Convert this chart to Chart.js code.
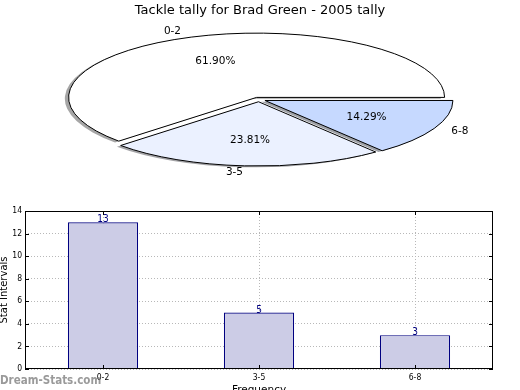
<!DOCTYPE html>
<html><head><meta charset="utf-8">
<script src="https://cdn.jsdelivr.net/npm/chart.js@4"></script>
<style>
html,body{margin:0;padding:0;background:#fff;overflow:hidden;width:520px;height:390px;}
#pieWrap{position:absolute;left:0;top:0;width:520px;height:200px;}
#barWrap{position:absolute;left:0;top:200px;width:520px;height:194px;}
canvas{display:block;}
</style></head><body>
<div id="pieWrap"><canvas id="pie" width="520" height="200"></canvas></div>
<div id="barWrap"><canvas id="bar" width="520" height="194"></canvas></div>
<script>
// ---- data ----
const TITLE = 'Tackle tally for Brad Green - 2005 tally';
const categories = ['0-2', '3-5', '6-8'];
const tallies = [13, 5, 3];
const yTicks = [0, 2, 4, 6, 8, 10, 12, 14];
const pieColors = ['#ffffff', '#ebf1ff', '#c6d9ff'];
const X_TITLE = 'Frequency';
const Y_TITLE = 'Stat Intervals';
const WATERMARK = 'Dream-Stats.com';

// ---- style ----
const RX = 188, RY = 64.3;
const SY = RY / RX;
const EXPLODE = 0.035;
const SHADOW = 0.02;
const FONT = '"DejaVu Sans", "Liberation Sans", sans-serif';
const CFONT = '"DejaVu Sans Condensed", "DejaVu Sans", sans-serif';

Chart.defaults.font.family = FONT;
Chart.defaults.color = '#000';

const total = tallies.reduce((a, b) => a + b, 0);
const order = categories.map((c, i) => i).reverse(); // clockwise from east

function shade(col) {
  const c = col.replace('#', '');
  const r = Math.round(parseInt(c.substr(0, 2), 16) * 0.3);
  const g = Math.round(parseInt(c.substr(2, 2), 16) * 0.3);
  const b = Math.round(parseInt(c.substr(4, 2), 16) * 0.3);
  return `rgba(${r},${g},${b},0.5)`;
}

const ellipsePie = {
  id: 'ellipsePie',
  beforeDatasetDraw(chart, args) {
    const ctx = chart.ctx;
    const arcs = args.meta.data;
    const cx = arcs[0].x, cy = arcs[0].y, R = arcs[0].outerRadius;
    const toEllipse = () => { ctx.translate(cx, cy); ctx.scale(1, SY); ctx.translate(-cx, -cy); };
    const shift = a => { const m = (a.startAngle + a.endAngle) / 2; return [Math.cos(m) * EXPLODE * R, Math.sin(m) * EXPLODE * R]; };
    arcs.forEach(a => {
      const [dx, dy] = shift(a);
      ctx.save(); toEllipse(); ctx.translate(dx - SHADOW * R, dy + SHADOW * R);
      const o = a.options;
      a.options = Object.assign({}, o, { backgroundColor: shade(o.backgroundColor), borderWidth: 0 });
      a.draw(ctx);
      a.options = o;
      ctx.restore();
    });
    for (let k = arcs.length - 1; k >= 0; k--) {
      const a = arcs[k];
      const [dx, dy] = shift(a);
      ctx.save(); toEllipse(); ctx.translate(dx, dy);
      a.draw(ctx);
      ctx.beginPath();
      ctx.moveTo(cx, cy);
      ctx.arc(cx, cy, R, a.startAngle, a.endAngle);
      ctx.closePath();
      ctx.restore();
      ctx.save();
      ctx.lineWidth = 1; ctx.strokeStyle = '#000'; ctx.lineJoin = 'round';
      ctx.stroke();
      ctx.restore();
    }
    return false;
  },
  afterDraw(chart) {
    const ctx = chart.ctx;
    const arcs = chart.getDatasetMeta(0).data;
    const ds = chart.data.datasets[0].data;
    const cx = arcs[0].x, cy = arcs[0].y, R = arcs[0].outerRadius;
    ctx.save();
    ctx.fillStyle = '#000';
    ctx.font = `13px ${FONT}`;
    ctx.textAlign = 'center'; ctx.textBaseline = 'alphabetic';
    ctx.fillText(TITLE, chart.width / 2, 14);
    ctx.font = `10.5px ${FONT}`;
    ctx.textBaseline = 'middle';
    arcs.forEach((a, i) => {
      const m = (a.startAngle + a.endAngle) / 2;
      const ox = cx + Math.cos(m) * EXPLODE * R, oy = cy + Math.sin(m) * EXPLODE * R;
      const pos = k => [ox + Math.cos(m) * k * R, cy + (oy + Math.sin(m) * k * R - cy) * SY];
      const [lx, ly] = pos(1.1);
      ctx.textAlign = Math.cos(m) > 0 ? 'left' : 'right';
      ctx.fillText(chart.data.labels[i], lx, ly);
      const [px, py] = pos(0.6);
      ctx.textAlign = 'center';
      ctx.fillText((ds[i] / total * 100).toFixed(2) + '%', px, py);
    });
    ctx.restore();
  }
};

new Chart(document.getElementById('pie'), {
  type: 'pie',
  data: {
    labels: order.map(i => categories[i]),
    datasets: [{
      data: order.map(i => tallies[i]),
      backgroundColor: order.map(i => pieColors[i]),
      borderWidth: 0,
      radius: RX,
      clip: false
    }]
  },
  options: {
    responsive: false, animation: false, events: [],
    rotation: 90,
    radius: RX,
    layout: { padding: { left: 0, right: 2, top: 0, bottom: 1 } },
    plugins: { legend: { display: false }, tooltip: { enabled: false }, title: { display: false } }
  },
  plugins: [ellipsePie]
});

const barExtras = {
  id: 'barExtras',
  afterDraw(chart) {
    const ctx = chart.ctx;
    const { left, right, top, bottom } = chart.chartArea;
    const xs = chart.scales.x, ys = chart.scales.y;
    ctx.save();
    ctx.strokeStyle = '#000'; ctx.lineWidth = 1;
    ctx.strokeRect(left + 0.5, top + 0.5, right - left - 1, bottom - top - 1);
    ctx.beginPath();
    yTicks.forEach(v => {
      const y = Math.round(ys.getPixelForValue(v)) + 0.5;
      ctx.moveTo(left, y); ctx.lineTo(left + 4, y);
      ctx.moveTo(right, y); ctx.lineTo(right - 4, y);
    });
    categories.forEach((c, i) => {
      const x = Math.round(xs.getPixelForValue(i)) + 0.5;
      ctx.moveTo(x, bottom); ctx.lineTo(x, bottom - 4);
      ctx.moveTo(x, top); ctx.lineTo(x, top + 4);
    });
    ctx.stroke();
    const meta = chart.getDatasetMeta(0);
    ctx.fillStyle = '#000080';
    ctx.font = `10px ${CFONT}`;
    ctx.textAlign = 'center'; ctx.textBaseline = 'alphabetic';
    meta.data.forEach((bar, i) => {
      ctx.fillText(String(chart.data.datasets[0].data[i]), bar.x, bar.y);
    });
    ctx.fillStyle = 'rgba(120,120,120,0.75)';
    ctx.font = `bold 11.5px ${CFONT}`;
    ctx.textAlign = 'left';
    ctx.fillText(WATERMARK, 0, 184);
    ctx.restore();
  }
};

new Chart(document.getElementById('bar'), {
  type: 'bar',
  data: {
    labels: categories,
    datasets: [{
      data: tallies,
      backgroundColor: '#ccccE6',
      borderColor: '#000080',
      borderWidth: 1.2,
      barPercentage: 0.45,
      categoryPercentage: 1
    }]
  },
  options: {
    responsive: false, animation: false, events: [],
    layout: { padding: { top: 11, right: 27, left: 0, bottom: 0 } },
    plugins: { legend: { display: false }, tooltip: { enabled: false } },
    scales: {
      x: {
        z: 1,
        offset: true,
        grid: { offset: false, color: '#b8b8b8', lineWidth: 1, drawTicks: false },
        border: { display: false, dash: [1, 2] },
        ticks: { font: { size: 8.5, family: CFONT }, padding: 4, color: '#000', maxRotation: 0 },
        title: { display: true, text: X_TITLE, font: { size: 10.5, lineHeight: 0.7 }, padding: 0, color: '#000' },
        afterFit(s) { s.height = 25; }
      },
      y: {
        z: 1,
        min: 0, max: 14,
        afterBuildTicks(s) { s.ticks = yTicks.map(v => ({ value: v })); },
        grid: { color: '#b8b8b8', lineWidth: 1, drawTicks: false },
        border: { display: false, dash: [1, 2] },
        ticks: { font: { size: 8.5, family: CFONT }, padding: 3, color: '#000' },
        title: { display: true, text: Y_TITLE, font: { size: 10, lineHeight: 0.8 }, padding: 0, color: '#000' },
        afterFit(s) { s.width = 25; }
      }
    }
  },
  plugins: [barExtras]
});
</script>
</body></html>
